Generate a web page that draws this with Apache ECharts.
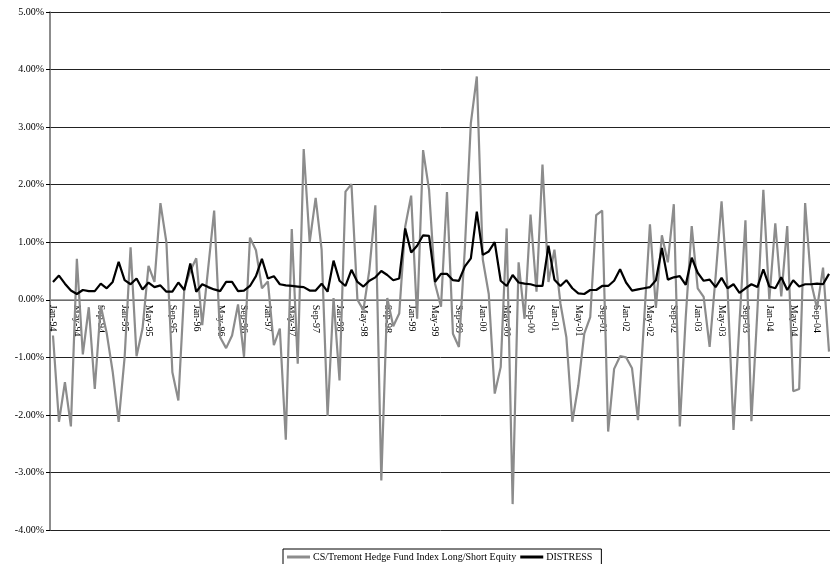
<!DOCTYPE html>
<html>
<head>
<meta charset="utf-8">
<script src="https://cdn.jsdelivr.net/npm/echarts@6/dist/echarts.min.js"></script>
<style>
  html, body { margin: 0; padding: 0; background: #fff; }
  #chart { width: 830px; height: 564px; }
</style>
</head>
<body>
<div id="chart"></div>
<script>
// monthly returns in %, Jan-94 .. Nov-04
var monthNames = ['Jan', 'Feb', 'Mar', 'Apr', 'May', 'Jun', 'Jul', 'Aug', 'Sep', 'Oct', 'Nov', 'Dec'];
var years = ['94', '95', '96', '97', '98', '99', '00', '01', '02', '03', '04'];
var monthCount = 131;

var longShortEquity = [
  -0.62, -2.12, -1.43, -2.2, 0.71, -0.95, -0.13, -1.55, -0.1, -0.58, -1.25, -2.12,
  -1.0, 0.91, -0.98, -0.5, 0.59, 0.31, 1.68, 1.0, -1.26, -1.75, 0.2, 0.5,
  0.72, -0.44, 0.55, 1.55, -0.65, -0.84, -0.62, -0.08, -0.99, 1.08, 0.86, 0.2,
  0.32, -0.79, -0.5, -2.43, 1.23, -1.11, 2.62, 1.0, 1.77, 0.87, -2.02, 0.03,
  -1.4, 1.88, 2.01, 0.0, -0.18, 0.52, 1.64, -3.14, 0.03, -0.46, -0.24, 1.27,
  1.81, -0.33, 2.6, 1.91, 0.28, -0.12, 1.87, -0.59, -0.82, 0.9, 3.07, 3.88,
  0.7, 0.1, -1.63, -1.17, 1.24, -3.55, 0.65, -0.33, 1.48, 0.14, 2.35, 0.31,
  0.87, -0.06, -0.65, -2.12, -1.49, -0.59, -0.3, 1.47, 1.55, -2.29, -1.2, -0.98,
  -1.0, -1.19, -2.09, -0.4, 1.31, -0.14, 1.12, 0.65, 1.66, -2.2, -0.3, 1.28,
  0.2, 0.05, -0.82, 0.4, 1.71, 0.2, -2.26, -0.4, 1.38, -2.11, -0.2, 1.91,
  0.0, 1.33, 0.06, 1.28, -1.59, -1.55, 1.68, 0.3, -0.15, 0.56, -0.9
];

var distress = [
  0.31, 0.42, 0.28, 0.16, 0.1, 0.17, 0.15, 0.15, 0.28, 0.2, 0.31, 0.66,
  0.34, 0.27, 0.37, 0.18, 0.3, 0.22, 0.25, 0.14, 0.14, 0.3, 0.17, 0.63,
  0.14, 0.27, 0.22, 0.18, 0.15, 0.31, 0.31, 0.15, 0.16, 0.24, 0.41, 0.71,
  0.37, 0.41, 0.27, 0.25, 0.24, 0.23, 0.22, 0.16, 0.16, 0.28, 0.14, 0.68,
  0.33, 0.24, 0.52, 0.31, 0.23, 0.33, 0.39, 0.5, 0.43, 0.34, 0.37, 1.24,
  0.82, 0.94, 1.12, 1.11, 0.31, 0.45, 0.45, 0.34, 0.33, 0.58, 0.72, 1.53,
  0.78, 0.84, 1.0, 0.33, 0.24, 0.43, 0.3, 0.28, 0.27, 0.24, 0.24, 0.94,
  0.35, 0.24, 0.34, 0.2, 0.11, 0.1, 0.17, 0.17, 0.24, 0.24, 0.33, 0.53,
  0.3, 0.16, 0.18, 0.2, 0.22, 0.34, 0.9, 0.35, 0.39, 0.41, 0.26, 0.73,
  0.47, 0.33, 0.35, 0.22, 0.38, 0.2, 0.27, 0.12, 0.2, 0.27, 0.22, 0.53,
  0.23, 0.2, 0.39, 0.17, 0.34, 0.23, 0.27, 0.27, 0.28, 0.27, 0.45
];

var yMin = -4, yMax = 5;

var categories = [];
for (var i = 0; i < monthCount; i++) {
  categories.push(monthNames[i % 12] + '-' + years[Math.floor(i / 12)]);
}

var serif = '"Liberation Serif", "Times New Roman", serif';
var gridTop = 12, gridBottom = 34, chartHeight = 564;
// category axis sits on the 0% line, like the original
var plotHeight = chartHeight - gridTop - gridBottom;
var zeroOffset = -plotHeight * (0 - yMin) / (yMax - yMin);

var chart = echarts.init(document.getElementById('chart'));
var option = {
  backgroundColor: '#fff',
  animation: false,
  textStyle: { fontFamily: serif, color: '#000' },
  grid: { left: 50, right: -2, top: gridTop, bottom: gridBottom, outerBoundsMode: 'none' },
  legend: {
    left: 283,
    top: 549,
    icon: 'rect',
    itemWidth: 23,
    itemHeight: 3,
    itemGap: 4,
    padding: [3, 9, 6, 4],
    borderColor: '#000',
    borderWidth: 1,
    textStyle: { fontFamily: serif, fontSize: 10, color: '#000', padding: [0, 0, 0, -2] },
    data: ['CS/Tremont Hedge Fund Index Long/Short Equity', 'DISTRESS']
  },
  xAxis: {
    type: 'category',
    data: categories,
    boundaryGap: true,
    offset: zeroOffset,
    axisLine: { onZero: false, lineStyle: { color: '#888', width: 1.5 } },
    axisTick: { interval: 3, length: 4, lineStyle: { color: '#000' } },
    axisLabel: {
      interval: 3,
      rotate: -90,
      margin: 5,
      fontFamily: serif,
      fontSize: 10,
      color: '#000'
    }
  },
  yAxis: {
    type: 'value',
    min: yMin,
    max: yMax,
    interval: 1,
    axisLine: { show: true, lineStyle: { color: '#666', width: 1.5 } },
    axisTick: { show: true, length: 4, lineStyle: { color: '#000' } },
    axisLabel: {
      margin: 6,
      fontFamily: serif,
      fontSize: 10,
      color: '#000',
      formatter: function (v) { return v.toFixed(2) + '%'; }
    },
    splitLine: { lineStyle: { color: '#222', width: 1 } }
  },
  series: [
    {
      name: 'CS/Tremont Hedge Fund Index Long/Short Equity',
      type: 'line',
      data: longShortEquity,
      symbol: 'none',
      z: 2,
      lineStyle: { color: '#8c8c8c', width: 2.2 },
      itemStyle: { color: '#8c8c8c' }
    },
    {
      name: 'DISTRESS',
      type: 'line',
      data: distress,
      symbol: 'none',
      z: 3,
      lineStyle: { color: '#000', width: 2.2 },
      itemStyle: { color: '#000' }
    }
  ]
};
chart.setOption(option);
</script>
</body>
</html>
